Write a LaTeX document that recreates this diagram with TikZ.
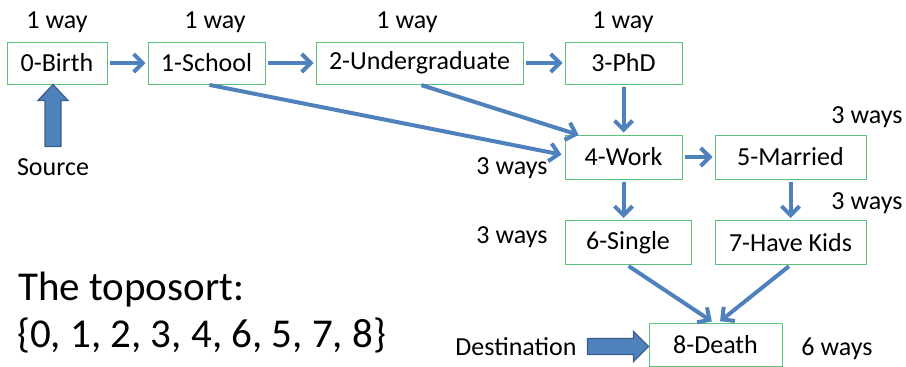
\documentclass[tikz,border=0pt]{standalone}
\usepackage{fontspec}
\setmainfont{Carlito}
\usetikzlibrary{arrows.meta,calc}
\definecolor{arrblue}{RGB}{79,129,189}
\definecolor{arrdark}{RGB}{56,93,138}
\definecolor{boxgreen}{RGB}{90,195,120}
\tikzset{
  box/.style={draw=boxgreen, line width=1pt, fill=white, minimum height=42pt, inner sep=0pt,
              font=\fontsize{26}{30}\selectfont},
  lbl/.style={font=\fontsize{26}{30}\selectfont, inner sep=0pt},
  big/.style={font=\fontsize{41}{48}\selectfont, inner sep=0pt, anchor=base west},
  conn/.style={draw=arrblue, line width=4pt, -{Straight Barb[length=9pt,width=18pt]},
               shorten <=2pt, shorten >=2pt},
  blockarrow/.style={fill=arrblue, draw=arrdark, line width=1.2pt}
}
\begin{document}
\begin{tikzpicture}[x=1pt,y=-1pt]
\useasboundingbox (0,0) rectangle (906,367);
% nodes
\node[box, minimum width=100pt] (n0) at (57,63) {0-Birth};
\node[box, minimum width=117pt] (n1) at (206.5,63) {1-School};
\node[box, minimum width=207pt] (n2) at (419.5,63) {2-Undergraduate};
\node[box, minimum width=117pt] (n3) at (623.5,63) {3-PhD};
\node[box, minimum width=117pt, minimum height=44pt] (n4) at (623.5,157) {4-Work};
\node[box, minimum width=151pt, minimum height=44pt] (n5) at (790.5,157) {5-Married};
\node[box, minimum width=126pt, minimum height=44pt] (n6) at (628,242.5) {6-Single};
\node[box, minimum width=151pt, minimum height=44pt] (n7) at (790.5,242.5) {7-Have Kids};
\node[box, minimum width=133pt, minimum height=43pt] (n8) at (715.5,344.5) {8-Death};
% connectors
\draw[conn] (n0.east) -- (n1.west);
\draw[conn] (n1.east) -- (n2.west);
\draw[conn] (n2.east) -- (n3.west);
\draw[conn] ($(n1.south)+(1,0)$) -- ($(n4.west)+(-1,-2)$);
\draw[conn] (n2.south) -- ($(n4.north west)+(16,1)$);
\draw[conn] (n3.south) -- (n4.north);
\draw[conn] (n4.east) -- (n5.west);
\draw[conn] (n4.south) -- (n4.south |- n6.north);
\draw[conn] (n5.south) -- (n7.north);
\draw[conn] ($(n6.south)+(-1,0)$) -- ($(n8.north)+(-2,0)$);
\draw[conn] (n7.south) -- ($(n8.north)+(3,0)$);
% labels
\node[lbl] (w0) at (57,22) {1 way};
\node[lbl] (w1) at (215,22) {1 way};
\node[lbl] (w2) at (407,22) {1 way};
\node[lbl] (w3) at (623,22) {1 way};
\node[lbl] (w5) at (867,117) {3 ways};
\node[lbl] (w4) at (512,168) {3 ways};
\node[lbl] (w7) at (867,203) {3 ways};
\node[lbl] (w6) at (512,237) {3 ways};
\node[lbl] (w8) at (837,349) {6 ways};
\node[lbl] (src) at (53,167) {Source};
\node[lbl] (dst) at (516,347) {Destination};
% block arrows
\coordinate (srctip) at ($(n0.south)+(-4,0)$);
\draw[blockarrow] (srctip) -- ++(15,16) -- ++(-7,0) -- ++(0,46) -- ++(-16,0) -- ++(0,-46) -- ++(-7,0) -- cycle;
\coordinate (dsttip) at ($(n8.west)+(0,2)$);
\draw[blockarrow] (dsttip) -- ++(-15,15) -- ++(0,-7) -- ++(-46,0) -- ++(0,-16) -- ++(46,0) -- ++(0,-7) -- cycle;
% toposort text
\node[big] (t1) at (18,300) {The toposort:};
\node[big] (t2) at (17,347) {\{0, 1, 2, 3, 4, 6, 5, 7, 8\}};
\end{tikzpicture}
\end{document}
